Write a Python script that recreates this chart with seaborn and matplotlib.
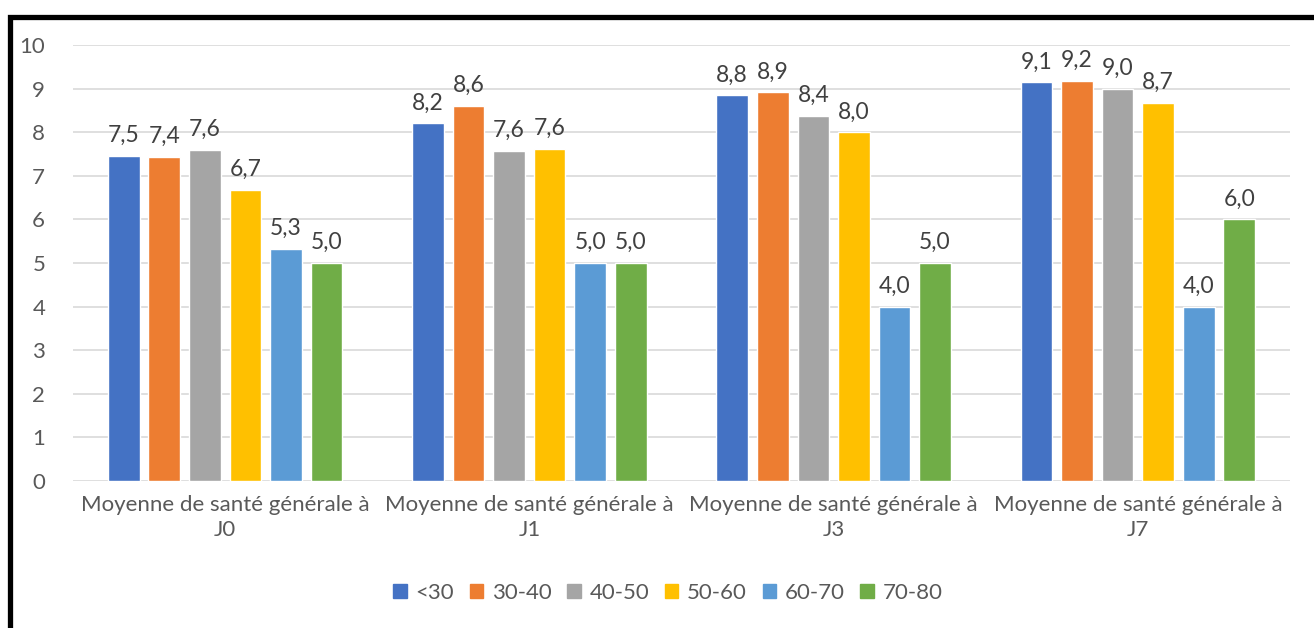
import matplotlib
matplotlib.use("Agg")
import matplotlib.pyplot as plt
import matplotlib.patches as mpatches
import seaborn as sns
import pandas as pd

groups = ["Moyenne de santé générale à\nJ0", "Moyenne de santé générale à\nJ1",
          "Moyenne de santé générale à\nJ3", "Moyenne de santé générale à\nJ7"]
series = ["<30", "30-40", "40-50", "50-60", "60-70", "70-80"]
v_lt30 = [7.46, 8.20, 8.85, 9.14]
v_30_40 = [7.44, 8.60, 8.92, 9.18]
v_40_50 = [7.60, 7.58, 8.38, 9.00]
v_50_60 = [6.68, 7.62, 8.00, 8.67]
v_60_70 = [5.33, 5.00, 4.00, 4.00]
v_70_80 = [5.00, 5.00, 5.00, 6.00]
colors = ["#4472C4", "#ED7D31", "#A5A5A5", "#FFC000", "#5B9BD5", "#70AD47"]
yticks = [0, 1, 2, 3, 4, 5, 6, 7, 8, 9, 10]

all_vals = [v_lt30, v_30_40, v_40_50, v_50_60, v_60_70, v_70_80]
rows = []
for s, vals in zip(series, all_vals):
    for g, v in zip(groups, vals):
        rows.append({"groupe": g, "age": s, "valeur": v})
df = pd.DataFrame(rows)

sns.set_theme(style="white")
plt.rcParams['font.family'] = ['Lato', 'DejaVu Sans']

fig = plt.figure(figsize=(13.14, 6.28), dpi=100)
ax = fig.add_axes([73/1314, 1-481/628, (1290-73)/1314, (481-45)/628])

sns.barplot(data=df, x="groupe", y="valeur", hue="age", order=groups, hue_order=series,
            palette=colors, width=0.8, gap=0.22, saturation=1, errorbar=None, ax=ax,
            legend=False)

for cont, vals in zip(ax.containers, all_vals):
    labs = [f"{v:.1f}".replace(".", ",") for v in vals]
    ax.bar_label(cont, labels=labs, padding=7, fontsize=16.5, color="#404040")

ax.set_ylim(0, 10)
ax.set_xlim(-0.5, 3.5)
ax.set_yticks(yticks)
ax.set_yticklabels([str(t) for t in yticks])
ax.yaxis.grid(True, color="#D9D9D9", linewidth=1.2)
ax.set_axisbelow(True)
for sp in ax.spines.values():
    sp.set_visible(False)
ax.tick_params(axis="both", length=0, labelsize=16, labelcolor="#595959")
ax.tick_params(axis="y", pad=20)
ax.tick_params(axis="x", pad=10)
for t in ax.get_xticklabels():
    t.set_linespacing(1.3)
ax.set_xlabel("")
ax.set_ylabel("")

handles = [mpatches.Patch(color=c, label=s) for c, s in zip(colors, series)]
fig.legend(handles=handles, loc="center", bbox_to_anchor=(668/1314, 1-593/628), ncol=6,
           frameon=False, fontsize=16, labelcolor="#595959", handlelength=0.6,
           handleheight=0.6, handletextpad=0.4, columnspacing=0.7)

border = mpatches.Rectangle((9.5/1314, -0.2), 1.2, 1.2 - 16.5/628, transform=fig.transFigure,
                            fill=False, edgecolor="black", linewidth=3.8, clip_on=False)
fig.add_artist(border)

fig.savefig("out.png", dpi=100, facecolor="white")
